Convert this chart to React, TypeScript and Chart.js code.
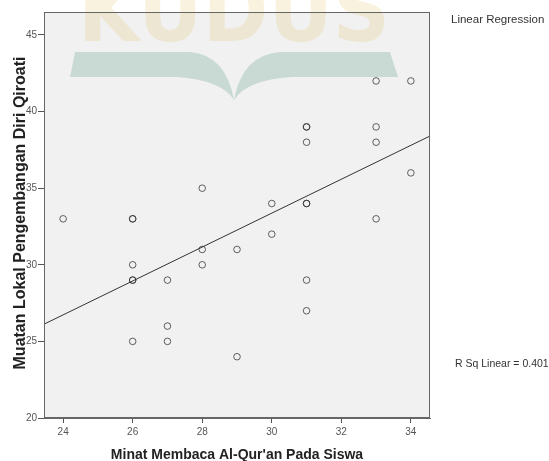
import React, { useEffect, useRef } from "react";
import { Chart, registerables } from "chart.js";

Chart.register(...registerables);

// Data (X: Minat Membaca, Y: Muatan Lokal)
const X_VALUES = [24, 26, 26, 26, 26, 26, 26, 27, 27, 27, 28, 28, 28, 29, 29, 30, 30, 31, 31, 31, 31, 31, 31, 31, 33, 33, 33, 33, 34, 34];
const Y_VALUES = [33, 33, 33, 30, 29, 29, 25, 29, 26, 25, 35, 31, 30, 31, 24, 34, 32, 39, 39, 38, 34, 34, 29, 27, 42, 39, 38, 33, 42, 36];

const X_TICKS = [24, 26, 28, 30, 32, 34];
const Y_TICKS = [20, 25, 30, 35, 40, 45];
const X_MIN = 23.45;
const X_MAX = 34.55;
const Y_MIN = 20;
const Y_MAX = 46.5;

const X_TITLE = "Minat Membaca Al-Qur'an Pada Siswa";
const Y_TITLE = "Muatan Lokal Pengembangan Diri Qiroati";
const LEGEND_TITLE = "Linear Regression";
const RSQ_LABEL = "R Sq Linear = 0.401";
const WATERMARK = "KUDUS";

function fitLine(xs: number[], ys: number[]) {
  const n = xs.length;
  const mx = xs.reduce((a, b) => a + b, 0) / n;
  const my = ys.reduce((a, b) => a + b, 0) / n;
  let sxy = 0, sxx = 0;
  for (let i = 0; i < n; i++) {
    sxy += (xs[i] - mx) * (ys[i] - my);
    sxx += (xs[i] - mx) * (xs[i] - mx);
  }
  const b = sxy / sxx;
  return { a: my - b * mx, b };
}

const FONT = "'Liberation Sans', Arial, sans-serif";

const backgroundPlugin = {
  id: "bgWatermark",
  beforeDraw(chart: any) {
    const { ctx, chartArea: ca, width, height } = chart;
    ctx.save();
    ctx.fillStyle = "#ffffff";
    ctx.fillRect(0, 0, width, height);
    ctx.fillStyle = "#f1f1f1";
    ctx.fillRect(ca.left, ca.top, ca.right - ca.left, ca.bottom - ca.top);

    // watermark letters
    ctx.font = `bold 88px 'DejaVu Sans', sans-serif`;
    const w = ctx.measureText(WATERMARK).width;
    ctx.translate(78, 41);
    ctx.scale(312 / w, 1);
    ctx.fillStyle = "rgba(225,190,90,0.2)";
    ctx.textBaseline = "alphabetic";
    ctx.fillText(WATERMARK, 0, 0);
    ctx.restore();

    // watermark open book
    ctx.save();
    ctx.fillStyle = "rgba(110,165,145,0.3)";
    ctx.beginPath();
    ctx.moveTo(75, 52);
    ctx.lineTo(190, 52);
    ctx.quadraticCurveTo(226, 55, 234, 100);
    ctx.quadraticCurveTo(242, 55, 280, 52);
    ctx.lineTo(390, 52);
    ctx.lineTo(398, 77);
    ctx.lineTo(292, 77);
    ctx.quadraticCurveTo(246, 80, 234, 100);
    ctx.quadraticCurveTo(222, 80, 176, 77);
    ctx.lineTo(70, 77);
    ctx.closePath();
    ctx.fill();
    ctx.restore();
  },
  afterDraw(chart: any) {
    const { ctx, chartArea: ca } = chart;
    ctx.save();
    ctx.strokeStyle = "#666";
    ctx.lineWidth = 1;
    ctx.strokeRect(ca.left + 0.5, ca.top + 0.5, ca.right - ca.left - 1, ca.bottom - ca.top - 1);

    ctx.fillStyle = "#222";
    ctx.font = `bold 14px ${FONT}`;
    ctx.textAlign = "center";
    ctx.textBaseline = "alphabetic";
    ctx.fillText(X_TITLE, (ca.left + ca.right) / 2, 459);

    ctx.save();
    ctx.font = `bold 16px ${FONT}`;
    ctx.translate(25, 213);
    ctx.rotate(-Math.PI / 2);
    ctx.fillText(Y_TITLE, 0, 0);
    ctx.restore();

    ctx.fillStyle = "#333";
    ctx.textAlign = "left";
    ctx.textBaseline = "middle";
    ctx.font = `11.5px ${FONT}`;
    ctx.fillText(LEGEND_TITLE, 451, 20);
    ctx.font = `10.5px ${FONT}`;
    ctx.fillText(RSQ_LABEL, 455, 364);
    ctx.restore();
  },
};

export default function App() {
  const ref = useRef<HTMLCanvasElement | null>(null);

  useEffect(() => {
    document.body.style.margin = "0";
    const canvas = ref.current;
    if (!canvas) return;
    const { a, b } = fitLine(X_VALUES, Y_VALUES);
    const points = X_VALUES.map((x, i) => ({ x, y: Y_VALUES[i] }));
    const line = [
      { x: X_MIN, y: a + b * X_MIN },
      { x: X_MAX, y: a + b * X_MAX },
    ];

    const chart = new Chart(canvas, {
      type: "scatter",
      data: {
        datasets: [
          {
            label: "Observed",
            data: points,
            pointRadius: 3.3,
            pointBorderWidth: 1,
            borderColor: "rgba(40,40,40,0.72)",
            backgroundColor: "rgba(0,0,0,0)",
            pointBackgroundColor: "rgba(0,0,0,0)",
            pointBorderColor: "rgba(40,40,40,0.72)",
          },
          {
            label: "Linear",
            data: line,
            showLine: true,
            pointRadius: 0,
            borderColor: "#333",
            borderWidth: 1,
          },
        ],
      },
      options: {
        animation: false,
        responsive: false,
        devicePixelRatio: 1,
        layout: { padding: { top: 12, right: 119, left: 0, bottom: 0 } },
        plugins: { legend: { display: false }, tooltip: { enabled: false }, title: { display: false } },
        scales: {
          x: {
            type: "linear",
            min: X_MIN,
            max: X_MAX,
            afterFit: (s: any) => { s.height = 43; },
            afterBuildTicks: (s: any) => { s.ticks = X_TICKS.map((v) => ({ value: v })); },
            grid: { drawOnChartArea: false, drawTicks: true, tickLength: 5, color: "#555" },
            border: { display: true, color: "#666" },
            ticks: {
              color: "#555",
              font: { family: FONT, size: 10 },
              padding: 3,
              maxRotation: 0,
              autoSkip: false,
              callback: (v: any) => String(v),
            },
          },
          y: {
            type: "linear",
            min: Y_MIN,
            max: Y_MAX,
            afterFit: (s: any) => { s.width = 44; },
            afterBuildTicks: (s: any) => { s.ticks = Y_TICKS.map((v) => ({ value: v })); },
            grid: { drawOnChartArea: false, drawTicks: true, tickLength: 6, color: "#555" },
            border: { display: true, color: "#666" },
            ticks: {
              color: "#555",
              font: { family: FONT, size: 10 },
              padding: 1,
              autoSkip: false,
              callback: (v: any) => String(v),
            },
          },
        },
      },
      plugins: [backgroundPlugin],
    });
    return () => chart.destroy();
  }, []);

  return (
    <div style={{ width: 549, height: 461 }}>
      <canvas ref={ref} width={549} height={461} style={{ display: "block" }} />
    </div>
  );
}
